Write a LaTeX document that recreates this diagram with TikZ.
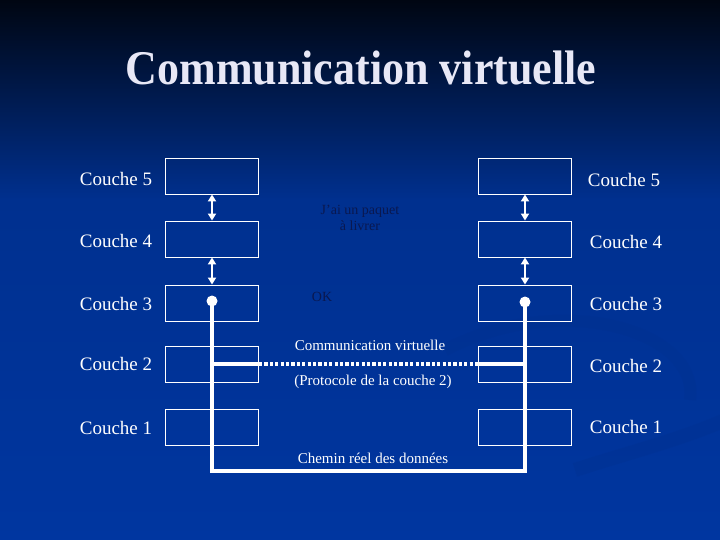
\documentclass[tikz,border=0pt]{standalone}
\usepackage{fontspec}
\setmainfont{Liberation Serif}
\usetikzlibrary{arrows.meta}
\definecolor{bgtop}{HTML}{000612}
\definecolor{bgmid}{HTML}{00308F}
\definecolor{bgbot}{HTML}{0036A0}
\definecolor{swoosh}{HTML}{00318F}
\definecolor{darktxt}{HTML}{0A1850}
\definecolor{titlecol}{HTML}{E8E8F6}
\begin{document}
\begin{tikzpicture}[x=1pt,y=-1pt,
  layerbox/.style={draw=white, line width=0.9pt, minimum width=93pt, minimum height=36pt, inner sep=0pt},
  lbl/.style={text=white, font=\fontsize{19}{21}\selectfont, inner sep=0pt},
  midtxt/.style={text=white, font=\fontsize{15}{17}\selectfont, inner sep=0pt},
  darkt/.style={text=darktxt, font=\fontsize{14}{16}\selectfont, inner sep=0pt, align=center},
  pathline/.style={draw=white, line width=3.2pt},
  dotnode/.style={circle, fill=white, minimum size=11pt, inner sep=0pt},
  updown/.style={draw=white, line width=1.8pt, {Triangle[width=8pt,length=7pt]}-{Triangle[width=8pt,length=7pt]}}]
\useasboundingbox (0,0) rectangle (720,540);
% background
\shade[top color=bgtop, bottom color=bgmid] (0,0) rectangle (720,200);
\shade[top color=bgmid, bottom color=bgbot] (0,200) rectangle (720,540);
\draw[swoosh, line width=12pt, opacity=0.35] (445,350) .. controls (560,290) and (700,330) .. (690,400);
\draw[swoosh, line width=14pt, opacity=0.35] (725,420) .. controls (680,440) and (620,455) .. (575,470);
% title
\node[text=titlecol, font=\fontsize{44}{50}\selectfont\bfseries] (title) at (361,68)
  {\scalebox{1.0}[1.1]{Communication virtuelle}};
% boxes
\foreach \n/\y in {5/176,4/239,3/303,2/364.5,1/427} {
  \node[layerbox] (L\n) at (212,\y) {};
  \node[layerbox] (R\n) at (525,\y) {};
}
% labels
\node[lbl] (lc5) at (116,179) {Couche 5};
\node[lbl] (lc4) at (116,241) {Couche 4};
\node[lbl] (lc3) at (116,304) {Couche 3};
\node[lbl] (lc2) at (116,364) {Couche 2};
\node[lbl] (lc1) at (116,428) {Couche 1};
\node[lbl] (rc5) at (624,180) {Couche 5};
\node[lbl] (rc4) at (626,242) {Couche 4};
\node[lbl] (rc3) at (626,304) {Couche 3};
\node[lbl] (rc2) at (626,366) {Couche 2};
\node[lbl] (rc1) at (626,427) {Couche 1};
% inter-layer arrows
\draw[updown] (L5.south) -- (L4.north);
\draw[updown] (L4.south) -- (L3.north);
\draw[updown] (R5.south) -- (R4.north);
\draw[updown] (R4.south) -- (R3.north);
% data path
\node[dotnode] (dl) at (212,301) {};
\node[dotnode] (dr) at (525,302) {};
\coordinate (bl) at (212,471);
\coordinate (br) at (525,471);
\draw[pathline, line join=miter] (dl.center) -- (bl) -- (br) -- (dr.center);
\coordinate (jl) at (212,364);
\coordinate (jr) at (525,364);
\draw[pathline] (jl) -- (L2.east |- jl);
\draw[pathline] (R2.west |- jr) -- (jr);
\draw[draw=white, line width=3.2pt, dash pattern=on 3.2pt off 2.2pt] (L2.east |- jl) -- (R2.west |- jr);
% middle texts
\node[darkt] (paquet) at (360,218) {J'ai un paquet\\à livrer};
\node[darkt] (ok) at (322,297) {OK};
\node[midtxt] (cv) at (370,345) {Communication virtuelle};
\node[midtxt] (proto) at (373,382) {(Protocole de la couche 2)};
\node[midtxt] (chemin) at (373,458) {Chemin réel des données};
\end{tikzpicture}
\end{document}
